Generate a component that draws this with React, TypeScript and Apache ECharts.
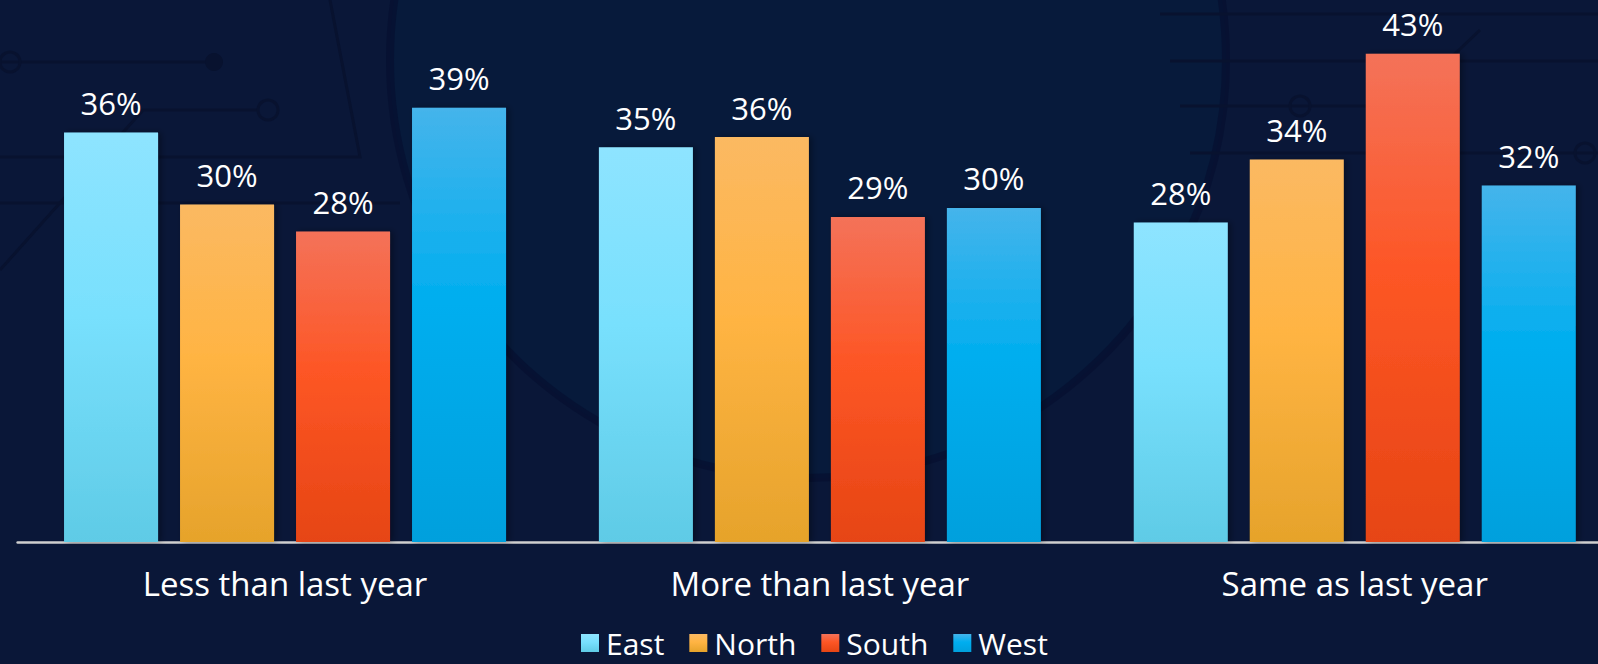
import React, { useEffect, useRef } from "react";
import * as echarts from "echarts";

const categories = ["Less than last year", "More than last year", "Same as last year"];
const seriesNames = ["East", "North", "South", "West"];
const east = [36.4, 35.1, 28.4];
const north = [30.0, 36.0, 34.0];
const south = [27.6, 28.9, 43.4];
const west = [38.6, 29.7, 31.7];

const gradients: string[][] = [
  ["#8ee4ff", "#78e0fd", "#5fcbe6"],
  ["#fbb962", "#ffb443", "#e6a32b"],
  ["#f47259", "#fd5625", "#e64514"],
  ["#45b4eb", "#00aeef", "#00a0dd"],
];

const FONT = "'Open Sans', Lato, sans-serif";
const LINE = "#08122f";

function grad(c: string[]) {
  return new echarts.graphic.LinearGradient(0, 0, 0, 1, [
    { offset: 0, color: c[0] },
    { offset: 0.45, color: c[1] },
    { offset: 1, color: c[2] },
  ]);
}

export default function App() {
  const ref = useRef<HTMLDivElement>(null);
  useEffect(() => {
    if (!ref.current) return;
    const chart = echarts.init(ref.current, undefined, { renderer: "svg" });
    const data = [east, north, south, west];
    const lineStyle = { stroke: LINE, lineWidth: 3 };
    const option: any = {
      animation: false,
      backgroundColor: "#0a1738",
      graphic: [
        {
          type: "circle",
          silent: true,
          z: -10,
          shape: { cx: 808, cy: 60, r: 418 },
          style: { fill: "#051c3d", stroke: "#061030", lineWidth: 8, opacity: 0.7 },
        },
        { type: "line", silent: true, z: -5, shape: { x1: 0, y1: 62, x2: 214, y2: 62 }, style: lineStyle },
        { type: "circle", silent: true, z: -5, shape: { cx: 214, cy: 62, r: 9 }, style: { fill: LINE } },
        { type: "circle", silent: true, z: -5, shape: { cx: 10, cy: 62, r: 10 }, style: { fill: "none", stroke: LINE, lineWidth: 3 } },
        { type: "polyline", silent: true, z: -5, shape: { points: [[0, 270], [143, 110], [258, 110]] }, style: { ...lineStyle, fill: "none" } },
        { type: "circle", silent: true, z: -5, shape: { cx: 268, cy: 110, r: 10 }, style: { fill: "none", stroke: LINE, lineWidth: 3 } },
        { type: "polyline", silent: true, z: -5, shape: { points: [[0, 157], [360, 157], [330, 0]] }, style: { ...lineStyle, fill: "none" } },
        { type: "line", silent: true, z: -5, shape: { x1: 0, y1: 203, x2: 400, y2: 203 }, style: lineStyle },
        { type: "line", silent: true, z: -5, shape: { x1: 1160, y1: 14, x2: 1640, y2: 14 }, style: lineStyle },
        { type: "line", silent: true, z: -5, shape: { x1: 1170, y1: 61, x2: 1640, y2: 61 }, style: lineStyle },
        { type: "polyline", silent: true, z: -5, shape: { points: [[1180, 106], [1400, 106], [1480, 30]] }, style: { ...lineStyle, fill: "none" } },
        { type: "line", silent: true, z: -5, shape: { x1: 1190, y1: 153, x2: 1640, y2: 153 }, style: lineStyle },
        { type: "circle", silent: true, z: -5, shape: { cx: 1300, cy: 106, r: 10 }, style: { fill: "none", stroke: LINE, lineWidth: 3 } },
        { type: "circle", silent: true, z: -5, shape: { cx: 1585, cy: 153, r: 10 }, style: { fill: "none", stroke: LINE, lineWidth: 3 } },
      ],
      grid: { left: 17.6, top: 2, width: 1604.6, height: 540 },
      legend: {
        data: seriesNames,
        left: 581,
        top: 628,
        padding: 0,
        itemWidth: 18,
        itemHeight: 18,
        itemGap: 25,
        icon: "rect",
        textStyle: { color: "#ffffff", fontSize: 30, lineHeight: 30, fontFamily: FONT, padding: [0, 0, 0, 2] },
      },
      xAxis: {
        type: "category",
        data: categories,
        axisLine: { show: true, lineStyle: { color: "#cfcfcf", width: 2.5 } },
        axisTick: { show: false },
        axisLabel: { color: "#ffffff", fontSize: 33, fontFamily: FONT, margin: 25 },
      },
      yAxis: {
        type: "value",
        min: 0,
        max: 48,
        show: false,
        splitLine: { show: false },
      },
      series: seriesNames.map((name, i) => ({
        name,
        type: "bar",
        data: data[i],
        barWidth: 94,
        barGap: "23.4%",
        itemStyle: {
          color: grad(gradients[i]),
          shadowColor: "rgba(0,0,0,0.35)",
          shadowBlur: 6,
          shadowOffsetX: 3,
          shadowOffsetY: 0,
        },
        label: {
          show: true,
          position: "top",
          distance: 14,
          color: "#ffffff",
          fontSize: 31,
          fontFamily: FONT,
          formatter: (p: any) => Math.round(p.value) + "%",
        },
      })),
    };
    chart.setOption(option);
    return () => chart.dispose();
  }, []);
  return (
    <div style={{ position: "fixed", left: 0, top: 0, width: 1598, height: 664, overflow: "hidden" }}>
      <div ref={ref} style={{ width: 1640, height: 664 }} />
    </div>
  );
}
